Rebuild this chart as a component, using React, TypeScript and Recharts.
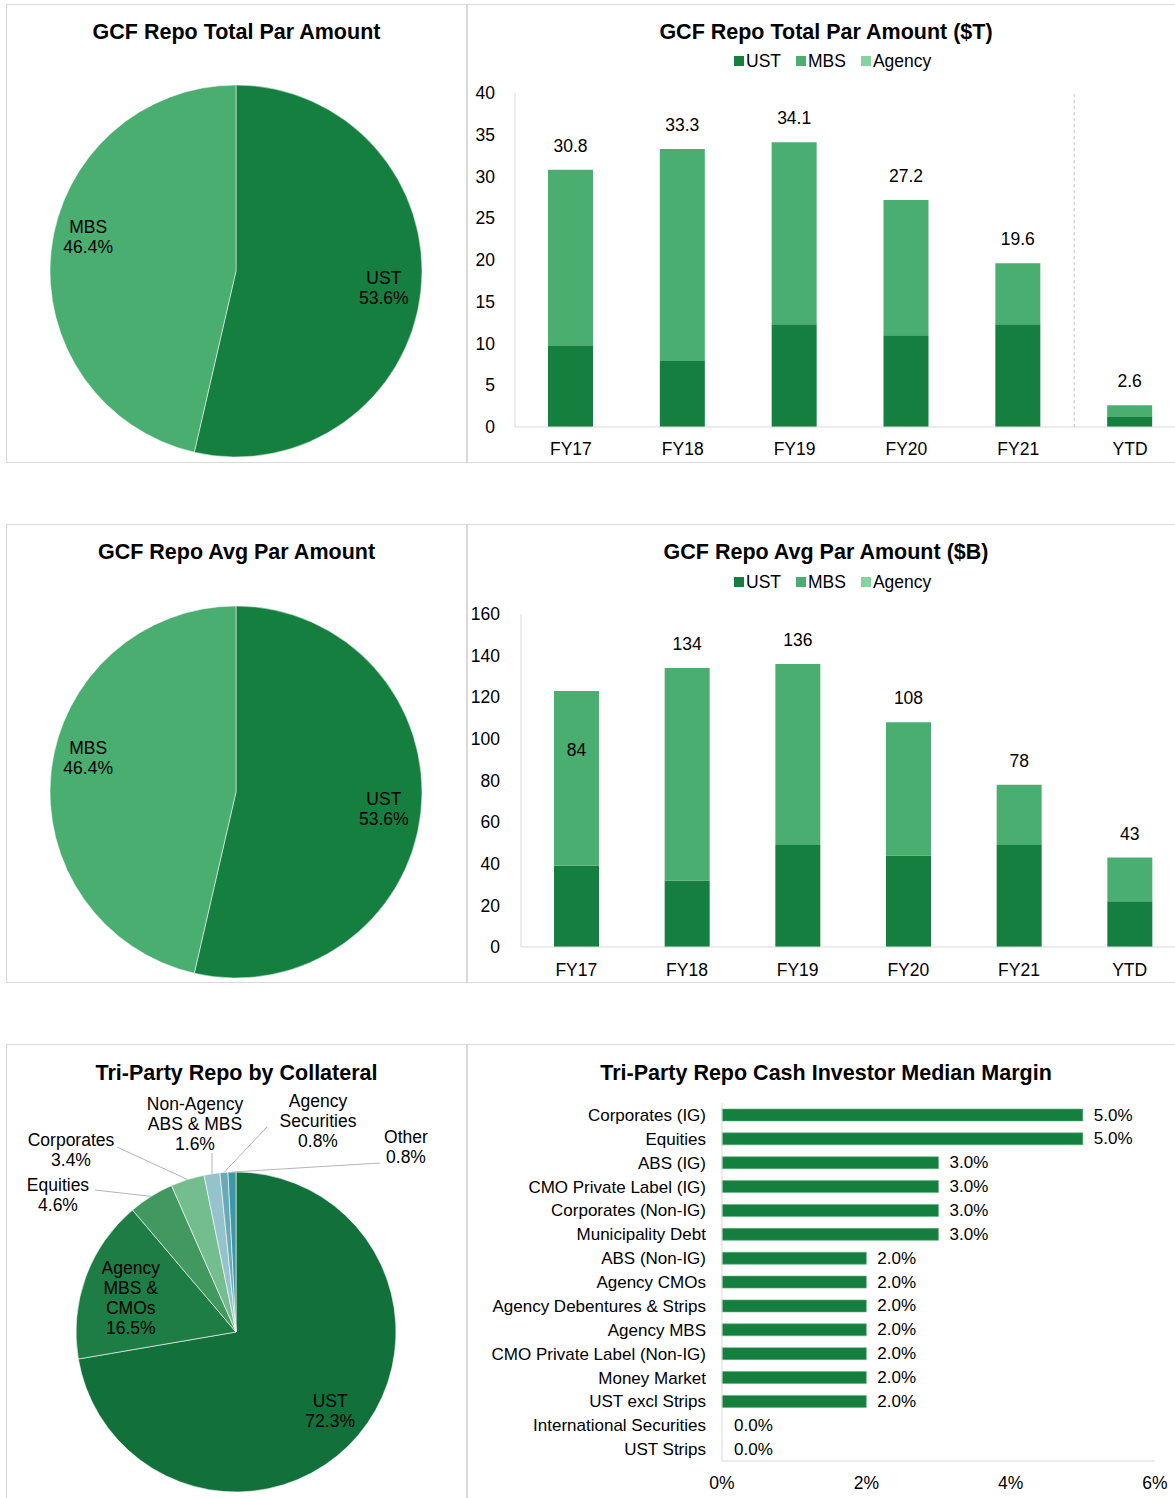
import React from "react";
import {
  Bar,
  BarChart,
  Cell,
  LabelList,
  Pie,
  PieChart,
  ReferenceLine,
  XAxis,
  YAxis,
} from "recharts";

const FONT = '"Liberation Sans", Arial, sans-serif';
const UST_GREEN = "#157f3f";
const MBS_GREEN = "#4bae71";
const AGENCY_GREEN = "#86d3a2";
const BORDER = "#d9d9d9";
const RAD = Math.PI / 180;

// GCF repo, by fiscal year
const fiscalYears = ["FY17", "FY18", "FY19", "FY20", "FY21", "YTD"];
const totalUst = [9.7, 7.9, 12.3, 11.0, 12.3, 1.2];
const totalMbs = [21.1, 25.4, 21.8, 16.2, 7.3, 1.4];
const totalAgency = [0, 0, 0, 0, 0, 0];
const totalLabels = ["30.8", "33.3", "34.1", "27.2", "19.6", "2.6"];
const totalTicks = [0, 5, 10, 15, 20, 25, 30, 35, 40];

const avgUst = [39, 32, 49, 44, 49, 22];
const avgMbs = [84, 102, 87, 64, 29, 21];
const avgAgency = [0, 0, 0, 0, 0, 0];
const avgLabels = ["84", "134", "136", "108", "78", "43"];
const avgTicks = [0, 20, 40, 60, 80, 100, 120, 140, 160];

// GCF pies
const gcfNames = ["UST", "MBS"];
const gcfTotalShare = [53.6, 46.4];
const gcfAvgShare = [53.6, 46.4];
const gcfColors = [UST_GREEN, MBS_GREEN];

// tri-party collateral
const collateralNames = [
  "UST",
  "Agency\nMBS &\nCMOs",
  "Equities",
  "Corporates",
  "Non-Agency\nABS & MBS",
  "Agency\nSecurities",
  "Other",
];
const collateralShare = [72.3, 16.5, 4.6, 3.4, 1.6, 0.8, 0.8];
const collateralColors = ["#12713a", "#1e7d44", "#42995f", "#74bd8f", "#95c3cc", "#6aa9b6", "#3b98ab"];

// tri-party median margin
const marginCategories = [
  "Corporates (IG)",
  "Equities",
  "ABS (IG)",
  "CMO Private Label (IG)",
  "Corporates (Non-IG)",
  "Municipality Debt",
  "ABS (Non-IG)",
  "Agency CMOs",
  "Agency Debentures & Strips",
  "Agency MBS",
  "CMO Private Label (Non-IG)",
  "Money Market",
  "UST excl Strips",
  "International Securities",
  "UST Strips",
];
const marginValues = [0.05, 0.05, 0.03, 0.03, 0.03, 0.03, 0.02, 0.02, 0.02, 0.02, 0.02, 0.02, 0.02, 0, 0];
const marginTicks = [0, 0.02, 0.04, 0.06];

const legendItems = [
  { name: "UST", color: UST_GREEN },
  { name: "MBS", color: MBS_GREEN },
  { name: "Agency", color: AGENCY_GREEN },
];

// label placement for the collateral pie (offsets from the pie centre)
const collateralLabelSpots: any[] = [
  { inside: true, r: 0.77 },
  { inside: true, r: 0.7, nudge: 4 },
  { dx: -178, dy: -147, lx: -141, ly: -142 },
  { dx: -165, dy: -192, lx: -119, ly: -185 },
  { dx: -41, dy: -228, lx: -24, ly: -179 },
  { dx: 82, dy: -231, lx: 31, ly: -205 },
  { dx: 170, dy: -195, lx: 144, ly: -169 },
];
const gcfLabelNudge = [0, -17];

const tickStyle = { fill: "#000", fontSize: 17.5, fontFamily: FONT };
const noMargin = { top: 0, right: 0, bottom: 0, left: 0 };

function Panel({ left, top, width, height }: { left: number; top: number; width: number; height: number }) {
  return (
    <div
      style={{
        position: "absolute",
        left,
        top,
        width,
        height,
        boxSizing: "border-box",
        border: `1px solid ${BORDER}`,
      }}
    />
  );
}

function Title({ text, left, width, top }: { text: string; left: number; width: number; top: number }) {
  return (
    <div
      style={{
        position: "absolute",
        left,
        top,
        width,
        textAlign: "center",
        fontWeight: "bold",
        fontSize: 21.5,
        lineHeight: "24px",
        color: "#000",
      }}
    >
      {text}
    </div>
  );
}

function SeriesLegend({ top }: { top: number }) {
  return (
    <div style={{ position: "absolute", left: 734, top, display: "flex", alignItems: "center", fontSize: 17.5, lineHeight: "20px" }}>
      {legendItems.map((item, i) => (
        <div key={item.name} style={{ display: "flex", alignItems: "center", marginLeft: i === 0 ? 0 : 15 }}>
          <span style={{ width: 10, height: 10, background: item.color, marginRight: 2, display: "inline-block" }} />
          <span>{item.name}</span>
        </div>
      ))}
    </div>
  );
}

function MultiLine({ x, y, lines }: { x: number; y: number; lines: string[] }) {
  return (
    <text x={x} y={y} textAnchor="middle" fill="#000" fontSize={17.5} fontFamily={FONT}>
      {lines.map((line, i) => (
        <tspan key={i} x={x} y={y + i * 20} dominantBaseline="central">
          {line}
        </tspan>
      ))}
    </text>
  );
}

const renderGcfLabel = (props: any) => {
  const { cx, cy, midAngle, outerRadius, name, value, index } = props;
  const r = outerRadius * 0.8;
  const x = cx + r * Math.cos(-midAngle * RAD);
  const y = cy + r * Math.sin(-midAngle * RAD) + gcfLabelNudge[index];
  return <MultiLine x={x} y={y - 10} lines={[name, `${value.toFixed(1)}%`]} />;
};

const renderCollateralLabel = (props: any) => {
  const { cx, cy, midAngle, outerRadius, name, value, index } = props;
  const lines = [...String(name).split("\n"), `${value.toFixed(1)}%`];
  const spot = collateralLabelSpots[index];
  if (spot.inside) {
    const r = outerRadius * spot.r;
    const x = cx + r * Math.cos(-midAngle * RAD);
    const y = cy + r * Math.sin(-midAngle * RAD) + (spot.nudge || 0);
    return <MultiLine x={x} y={y - ((lines.length - 1) * 20) / 2} lines={lines} />;
  }
  const ex = cx + outerRadius * Math.cos(-midAngle * RAD);
  const ey = cy + outerRadius * Math.sin(-midAngle * RAD);
  return (
    <g>
      <line x1={cx + spot.lx} y1={cy + spot.ly} x2={ex} y2={ey} stroke="#b5b5b5" strokeWidth={1} />
      <MultiLine x={cx + spot.dx} y={cy + spot.dy} lines={lines} />
    </g>
  );
};

const renderTotalLabel = (props: any) => {
  const { x, y, width, index } = props;
  return (
    <text x={x + width / 2} y={y - 24} textAnchor="middle" dominantBaseline="central" fill="#000" fontSize={17.5} fontFamily={FONT}>
      {totalLabels[index]}
    </text>
  );
};

const renderAvgLabel = (props: any) => {
  const { x, y, width, index } = props;
  // Excel put the first label inside its bar
  const ty = index === 0 ? y + 59 : y - 24;
  return (
    <text x={x + width / 2} y={ty} textAnchor="middle" dominantBaseline="central" fill="#000" fontSize={17.5} fontFamily={FONT}>
      {avgLabels[index]}
    </text>
  );
};

const renderMarginLabel = (props: any) => {
  const { x, y, width, height, value } = props;
  return (
    <text
      x={Number(x) + Number(width || 0) + 11}
      y={Number(y) + Number(height) / 2}
      textAnchor="start"
      dominantBaseline="central"
      fill="#000"
      fontSize={17}
      fontFamily={FONT}
    >
      {`${(Number(value) * 100).toFixed(1)}%`}
    </text>
  );
};

export default function App() {
  const totalRows = fiscalYears.map((fy, i) => ({ fy, ust: totalUst[i], mbs: totalMbs[i], agency: totalAgency[i] }));
  const avgRows = fiscalYears.map((fy, i) => ({ fy, ust: avgUst[i], mbs: avgMbs[i], agency: avgAgency[i] }));
  const gcfTotalRows = gcfNames.map((name, i) => ({ name, value: gcfTotalShare[i] }));
  const gcfAvgRows = gcfNames.map((name, i) => ({ name, value: gcfAvgShare[i] }));
  const collateralRows = collateralNames.map((name, i) => ({ name, value: collateralShare[i] }));
  const marginRows = marginCategories.map((name, i) => ({ name, value: marginValues[i] }));

  return (
    <div
      style={{
        position: "absolute",
        left: 0,
        top: 0,
        width: 1175,
        height: 1498,
        overflow: "hidden",
        background: "#fff",
        fontFamily: FONT,
        color: "#000",
      }}
    >
      <Panel left={6} top={4} width={461} height={459} />
      <Panel left={467} top={4} width={730} height={459} />
      <Panel left={6} top={524} width={461} height={459} />
      <Panel left={467} top={524} width={730} height={459} />
      <Panel left={6} top={1044} width={461} height={480} />
      <Panel left={467} top={1044} width={730} height={480} />

      <Title text="GCF Repo Total Par Amount" left={6} width={461} top={20} />
      <Title text="GCF Repo Total Par Amount ($T)" left={467} width={718} top={20} />
      <Title text="GCF Repo Avg Par Amount" left={6} width={461} top={540} />
      <Title text="GCF Repo Avg Par Amount ($B)" left={467} width={718} top={540} />
      <Title text="Tri-Party Repo by Collateral" left={6} width={461} top={1061} />
      <Title text="Tri-Party Repo Cash Investor Median Margin" left={467} width={718} top={1061} />

      <SeriesLegend top={51} />
      <SeriesLegend top={572} />

      <div style={{ position: "absolute", left: 6, top: 4 }}>
        <PieChart width={460} height={458} margin={noMargin}>
          <Pie
            data={gcfTotalRows}
            dataKey="value"
            nameKey="name"
            cx={230}
            cy={267}
            outerRadius={186}
            startAngle={90}
            endAngle={-270}
            stroke="#ffffff"
            strokeWidth={0.5}
            label={renderGcfLabel}
            labelLine={false}
            isAnimationActive={false}
          >
            {gcfTotalRows.map((row, i) => (
              <Cell key={row.name} fill={gcfColors[i]} />
            ))}
          </Pie>
        </PieChart>
      </div>

      <div style={{ position: "absolute", left: 467, top: 4 }}>
        <BarChart width={720} height={458} data={totalRows} margin={{ top: 89, right: 1, bottom: 0, left: 0 }} barSize={45}>
          <XAxis
            dataKey="fy"
            height={35}
            interval={0}
            axisLine={{ stroke: BORDER }}
            tickLine={false}
            tickSize={0}
            tickMargin={16}
            tick={tickStyle}
          />
          <YAxis
            width={48}
            domain={[0, 40]}
            ticks={totalTicks}
            axisLine={{ stroke: BORDER }}
            tickLine={false}
            tickSize={0}
            tickMargin={20}
            tick={tickStyle}
          />
          <ReferenceLine x="YTD" position="start" stroke="#bfbfbf" strokeDasharray="3 3" />
          <Bar dataKey="ust" stackId="a" fill={UST_GREEN} isAnimationActive={false} />
          <Bar dataKey="mbs" stackId="a" fill={MBS_GREEN} isAnimationActive={false}>
            <LabelList dataKey="mbs" content={renderTotalLabel} />
          </Bar>
          <Bar dataKey="agency" stackId="a" fill={AGENCY_GREEN} isAnimationActive={false} />
        </BarChart>
      </div>

      <div style={{ position: "absolute", left: 6, top: 524 }}>
        <PieChart width={460} height={458} margin={noMargin}>
          <Pie
            data={gcfAvgRows}
            dataKey="value"
            nameKey="name"
            cx={230}
            cy={268}
            outerRadius={186}
            startAngle={90}
            endAngle={-270}
            stroke="#ffffff"
            strokeWidth={0.5}
            label={renderGcfLabel}
            labelLine={false}
            isAnimationActive={false}
          >
            {gcfAvgRows.map((row, i) => (
              <Cell key={row.name} fill={gcfColors[i]} />
            ))}
          </Pie>
        </PieChart>
      </div>

      <div style={{ position: "absolute", left: 467, top: 524 }}>
        <BarChart width={720} height={458} data={avgRows} margin={{ top: 90, right: 2, bottom: 0, left: 0 }} barSize={45}>
          <XAxis
            dataKey="fy"
            height={35}
            interval={0}
            axisLine={{ stroke: BORDER }}
            tickLine={false}
            tickSize={0}
            tickMargin={17}
            tick={tickStyle}
          />
          <YAxis
            width={54}
            domain={[0, 160]}
            ticks={avgTicks}
            axisLine={{ stroke: BORDER }}
            tickLine={false}
            tickSize={0}
            tickMargin={21}
            tick={tickStyle}
          />
          <Bar dataKey="ust" stackId="a" fill={UST_GREEN} isAnimationActive={false} />
          <Bar dataKey="mbs" stackId="a" fill={MBS_GREEN} isAnimationActive={false}>
            <LabelList dataKey="mbs" content={renderAvgLabel} />
          </Bar>
          <Bar dataKey="agency" stackId="a" fill={AGENCY_GREEN} isAnimationActive={false} />
        </BarChart>
      </div>

      <div style={{ position: "absolute", left: 6, top: 1044 }}>
        <PieChart width={460} height={454} margin={noMargin}>
          <Pie
            data={collateralRows}
            dataKey="value"
            nameKey="name"
            cx={230}
            cy={288}
            outerRadius={160}
            startAngle={90}
            endAngle={-270}
            stroke="#ffffff"
            strokeWidth={0.6}
            label={renderCollateralLabel}
            labelLine={false}
            isAnimationActive={false}
          >
            {collateralRows.map((row, i) => (
              <Cell key={row.name} fill={collateralColors[i]} />
            ))}
          </Pie>
        </PieChart>
      </div>

      <div style={{ position: "absolute", left: 467, top: 1044 }}>
        <BarChart
          layout="vertical"
          width={720}
          height={454}
          data={marginRows}
          margin={{ top: 59, right: 32, bottom: 0, left: 0 }}
          barSize={12}
        >
          <XAxis
            type="number"
            domain={[0, 0.06]}
            ticks={marginTicks}
            tickFormatter={(v: number) => `${Math.round(v * 100)}%`}
            height={37}
            axisLine={{ stroke: BORDER }}
            tickLine={false}
            tickSize={0}
            tickMargin={16}
            tick={tickStyle}
          />
          <YAxis
            type="category"
            dataKey="name"
            width={255}
            interval={0}
            axisLine={{ stroke: BORDER }}
            tickLine={false}
            tickSize={0}
            tickMargin={16}
            tick={{ fill: "#000", fontSize: 17, fontFamily: FONT }}
          />
          <Bar dataKey="value" minPointSize={1} isAnimationActive={false}>
            {marginRows.map((row) => (
              <Cell
                key={row.name}
                fill={row.value > 0 ? UST_GREEN : "none"}
                stroke={row.value > 0 ? "#5fb27c" : "none"}
                strokeWidth={0.6}
              />
            ))}
            <LabelList dataKey="value" content={renderMarginLabel} />
          </Bar>
        </BarChart>
      </div>
    </div>
  );
}
